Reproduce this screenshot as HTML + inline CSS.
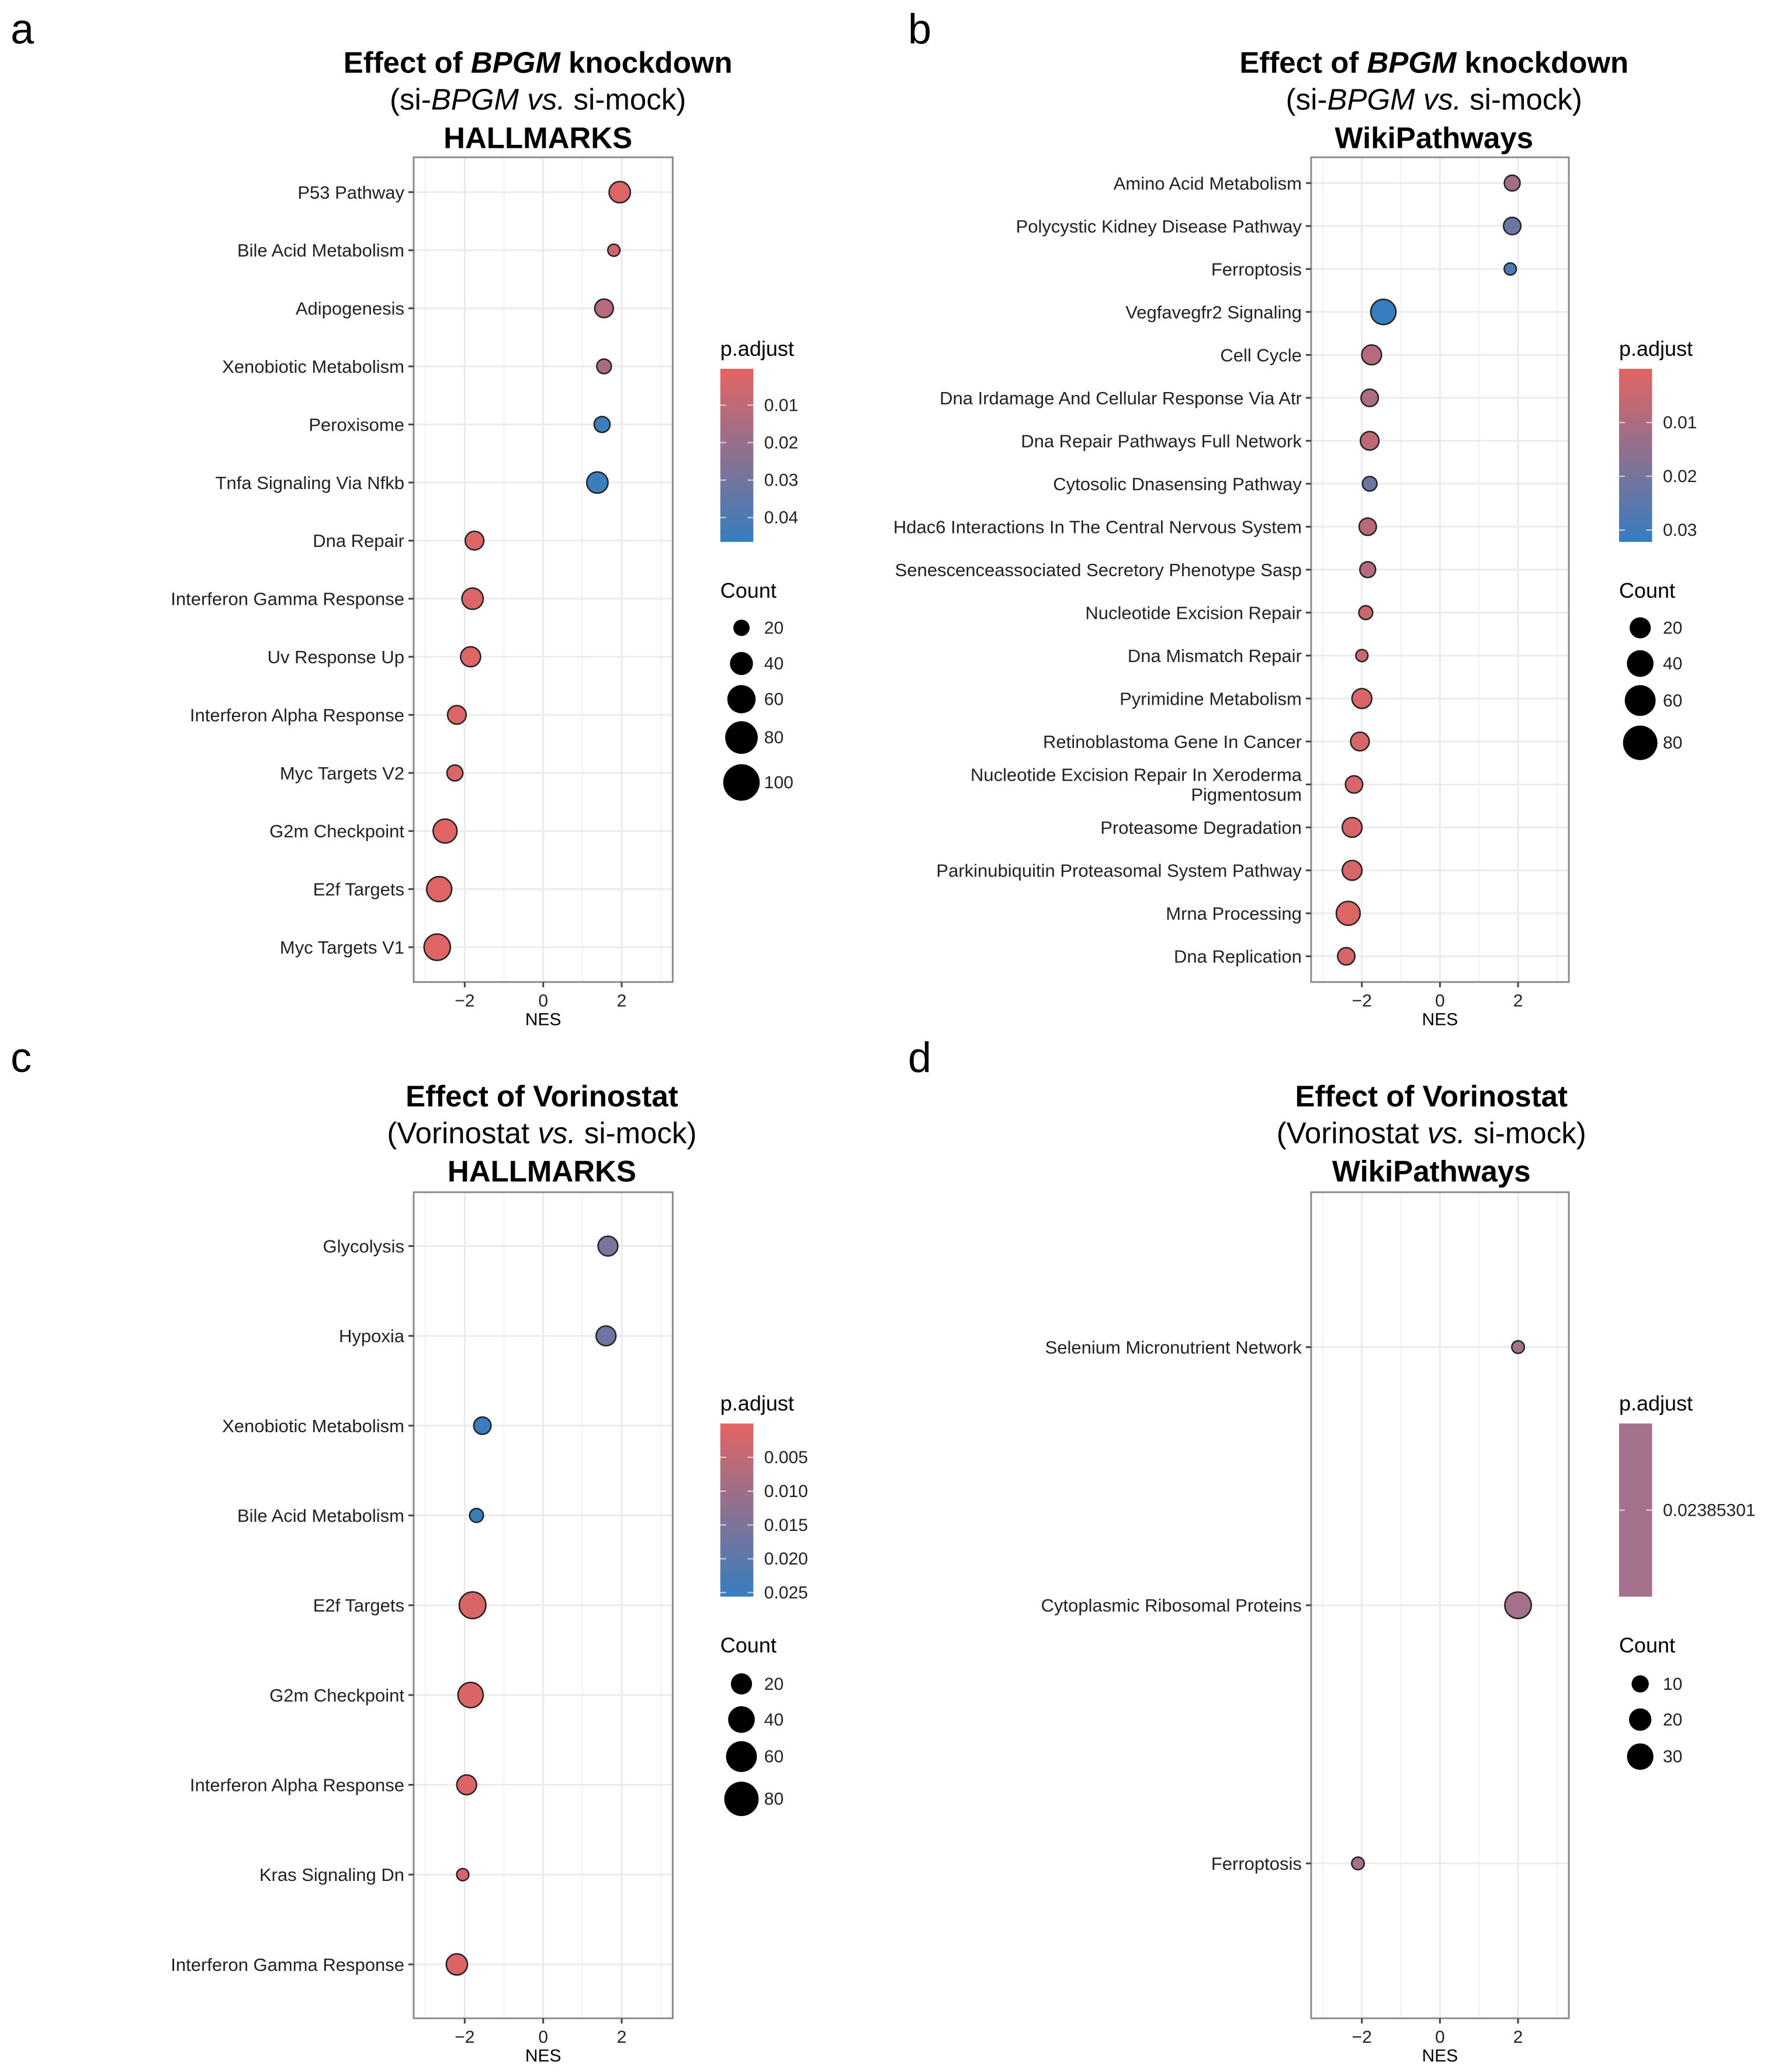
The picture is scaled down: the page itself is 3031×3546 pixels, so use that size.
<!DOCTYPE html>
<html><head><meta charset="utf-8"><style>
html,body{margin:0;padding:0;background:#fff;}
svg{display:block;font-family:"Liberation Sans",Arial,sans-serif;}
</style></head><body>
<svg id="fig" width="3031" height="3546" viewBox="0 0 3031 3546" xmlns="http://www.w3.org/2000/svg"></svg>
<script>
// ---------- Panel a data ----------
const aLabels=["P53 Pathway","Bile Acid Metabolism","Adipogenesis","Xenobiotic Metabolism","Peroxisome","Tnfa Signaling Via Nfkb","Dna Repair","Interferon Gamma Response","Uv Response Up","Interferon Alpha Response","Myc Targets V2","G2m Checkpoint","E2f Targets","Myc Targets V1"];
const aNES=[1.95,1.8,1.55,1.55,1.5,1.38,-1.75,-1.8,-1.85,-2.2,-2.25,-2.5,-2.65,-2.7];
const aCount=[34,11,26,16,19,34,26,34,30,26,19,43,47,52];
const aPadj=[0.002,0.005,0.012,0.015,0.045,0.045,0.002,0.002,0.002,0.002,0.002,0.001,0.001,0.001];
const aPTicks=[0.01,0.02,0.03,0.04];
const aPTickLabels=["0.01","0.02","0.03","0.04"];
const aCountLegend=[20,40,60,80,100];
// ---------- Panel b data ----------
const bLabels=["Amino Acid Metabolism","Polycystic Kidney Disease Pathway","Ferroptosis","Vegfavegfr2 Signaling","Cell Cycle","Dna Irdamage And Cellular Response Via Atr","Dna Repair Pathways Full Network","Cytosolic Dnasensing Pathway","Hdac6 Interactions In The Central Nervous System","Senescenceassociated Secretory Phenotype Sasp","Nucleotide Excision Repair","Dna Mismatch Repair","Pyrimidine Metabolism","Retinoblastoma Gene In Cancer","Nucleotide Excision Repair In Xeroderma|Pigmentosum","Proteasome Degradation","Parkinubiquitin Proteasomal System Pathway","Mrna Processing","Dna Replication"];
const bNES=[1.85,1.85,1.8,-1.45,-1.75,-1.8,-1.8,-1.8,-1.85,-1.85,-1.9,-2.0,-2.0,-2.05,-2.2,-2.25,-2.25,-2.35,-2.4];
const bCount=[7,10,2,34,16,10,13,5,10,7,4,2,16,13,10,16,16,29,10];
const bPadj=[0.012,0.022,0.028,0.032,0.008,0.01,0.007,0.022,0.008,0.008,0.005,0.004,0.002,0.002,0.002,0.002,0.002,0.001,0.002];
const bPTicks=[0.01,0.02,0.03];
const bPTickLabels=["0.01","0.02","0.03"];
const bCountLegend=[20,40,60,80];
// ---------- Panel c data ----------
const cLabels=["Glycolysis","Hypoxia","Xenobiotic Metabolism","Bile Acid Metabolism","E2f Targets","G2m Checkpoint","Interferon Alpha Response","Kras Signaling Dn","Interferon Gamma Response"];
const cNES=[1.65,1.6,-1.55,-1.7,-1.8,-1.85,-1.95,-2.05,-2.2];
const cCount=[16,16,10,4,40,34,16,2,20];
const cPadj=[0.016,0.017,0.025,0.025,0.001,0.001,0.001,0.001,0.001];
const cPTicks=[0.005,0.010,0.015,0.020,0.025];
const cPTickLabels=["0.005","0.010","0.015","0.020","0.025"];
const cCountLegend=[20,40,60,80];
// ---------- Panel d data ----------
const dLabels=["Selenium Micronutrient Network","Cytoplasmic Ribosomal Proteins","Ferroptosis"];
const dNES=[2.0,2.0,-2.1];
const dCount=[4,30,4];
const dPadj=[0.02385301,0.02385301,0.02385301];
const dPTicks=[0.02385301];
const dPTickLabels=["0.02385301"];
const dCountLegend=[10,20,30];
const xTicks=[-2,0,2];
const xTickLabels=["\u22122","0","2"];

const S=2.262;
const svg=document.getElementById('fig');
const NS="http://www.w3.org/2000/svg";
function mk(tag,attrs,parent){const e=document.createElementNS(NS,tag);for(const k in attrs)e.setAttribute(k,attrs[k]);(parent||svg).appendChild(e);return e;}
const RED=[226,100,98],BLUE=[54,126,192];
function col(t){t=Math.max(0,Math.min(1,t));const c=RED.map((v,i)=>Math.round(v+(BLUE[i]-v)*t));return `rgb(${c[0]},${c[1]},${c[2]})`;}

function panel(cfg){
  const g=mk('g',{});
  
  
  const x0=cfg.box[0]*S,x1=cfg.box[1]*S,y0=cfg.box[2]*S,y1=cfg.box[3]*S;
  const xmin=-3.3,xmax=3.3;
  const xs=v=>x0+(v-xmin)/(xmax-xmin)*(x1-x0);
  const n=cfg.labels.length;
  const step=(y1-y0)/(n-1+1.2);
  const ys=i=>y0+(0.6+i)*step;
  const L=mk('text',{x:cfg.letter[0]*S,y:cfg.letter[1]*S,'font-size':72,fill:'#000'},g);
  L.textContent=cfg.id;
  
  
  const cx=cfg.titleX*S;
  cfg.title.forEach((ln,i)=>{
    const t=mk('text',{x:cx,y:(cfg.titleY[i])*S,'font-size':51,'text-anchor':'middle',fill:'#000'},g);
    
    
    ln.forEach(seg=>{const sp=mk('tspan',{},t);if(seg[1].includes('b'))sp.setAttribute('font-weight','bold');if(seg[1].includes('i'))sp.setAttribute('font-style','italic');sp.textContent=seg[0];});
  });
  mk('rect',{x:x0,y:y0,width:x1-x0,height:y1-y0,fill:'#fff'},g);
  [-3,-1,1,3].forEach(v=>mk('line',{x1:xs(v),x2:xs(v),y1:y0,y2:y1,stroke:'#f2f2f2','stroke-width':2},g));
  xTicks.forEach(v=>mk('line',{x1:xs(v),x2:xs(v),y1:y0,y2:y1,stroke:'#ebebeb','stroke-width':3},g));
  for(let i=0;i<n;i++)mk('line',{x1:x0,x2:x1,y1:ys(i),y2:ys(i),stroke:'#ebebeb','stroke-width':3},g);
  for(let i=0;i<n;i++){
    const c=mk('circle',{cx:xs(cfg.nes[i]),cy:ys(i),r:cfg.size(cfg.count[i])*S,fill:cfg.fixedColor||col((cfg.padj[i]-cfg.pRange[0])/(cfg.pRange[1]-cfg.pRange[0])),stroke:'#222','stroke-width':2.5},g);
    
    
  }
  mk('rect',{x:x0,y:y0,width:x1-x0,height:y1-y0,fill:'none',stroke:'#8c8c8c','stroke-width':3},g);
  for(let i=0;i<n;i++){
    mk('line',{x1:x0-9,x2:x0,y1:ys(i),y2:ys(i),stroke:'#444','stroke-width':3},g);
    const parts=cfg.labels[i].split('|');
    parts.forEach((p,k)=>{
      const t=mk('text',{x:x0-16,y:ys(i)+11+(k-(parts.length-1)/2)*34,'font-size':31,'text-anchor':'end',fill:'#222'},g);
      t.textContent=p;
      
      
    });
  }
  xTicks.forEach((v,i)=>{
    mk('line',{x1:xs(v),x2:xs(v),y1:y1,y2:y1+9,stroke:'#444','stroke-width':3},g);
    const t=mk('text',{x:xs(v),y:y1+42,'font-size':30,'text-anchor':'middle',fill:'#222'},g);
    t.textContent=xTickLabels[i];
    
    
  });
  const xt=mk('text',{x:(x0+x1)/2,y:y1+74,'font-size':30,'text-anchor':'middle',fill:'#000'},g);
  xt.textContent='NES';
  
  
  const lx=cfg.legX*S, by0=cfg.barY[0]*S, by1=cfg.barY[1]*S;
  const pt=mk('text',{x:lx,y:by0-22,'font-size':36,fill:'#000'},g);
  pt.textContent='p.adjust';
  
  
  const gid='grad'+cfg.id;
  const defs=mk('defs',{},g);
  const lg=mk('linearGradient',{id:gid,x1:0,y1:0,x2:0,y2:1},defs);
  for(let k=0;k<=10;k++)mk('stop',{offset:k/10,'stop-color':cfg.fixedColor||col(k/10)},lg);
  const bar=mk('rect',{x:lx,y:by0,width:25*S,height:by1-by0,fill:`url(#${gid})`},g);
  
  
  cfg.pTicks.forEach((p,i)=>{
    const yy=cfg.fixedColor?(by0+by1)/2:by0+(p-cfg.pRange[0])/(cfg.pRange[1]-cfg.pRange[0])*(by1-by0);
    mk('line',{x1:lx,x2:lx+10,y1:yy,y2:yy,stroke:'#fff','stroke-width':2,opacity:0.7},g);
    mk('line',{x1:lx+25*S-10,x2:lx+25*S,y1:yy,y2:yy,stroke:'#fff','stroke-width':2,opacity:0.7},g);
    const t=mk('text',{x:lx+75,y:yy+10,'font-size':30,fill:'#222'},g);
    t.textContent=cfg.pTickLabels[i];
    
    
  });
  const ct=mk('text',{x:lx,y:cfg.countTitleY*S+12,'font-size':36,fill:'#000'},g);
  ct.textContent='Count';
  
  
  cfg.countLeg.forEach((c,i)=>{
    const yy=cfg.countY[i]*S;
    const cc=mk('circle',{cx:(lx+16*S),cy:yy,r:cfg.size(c)*S,fill:'#000'},g);
    
    
    const t=mk('text',{x:lx+75,y:yy+10,'font-size':30,fill:'#222'},g);
    t.textContent=String(c);
    
    
  });
}
const sizeA=c=>1.38*Math.sqrt(c);
const sizeBC=c=>1.12*Math.sqrt(c)+3;
const sizeD=c=>1.51*Math.sqrt(c)+1.73;
panel({id:'a',letter:[8,33],box:[313,509,119,743],titleX:407,titleY:[55,83,112],
  title:[[["Effect of ","b"],["BPGM","bi"],[" knockdown","b"]],[["(si-",""],["BPGM","i"],[" ",""],["vs.","i"],[" si-mock)",""]],[["HALLMARKS","b"]]],
  labels:aLabels,nes:aNES,count:aCount,padj:aPadj,pRange:[0.0003,0.0465],pTicks:aPTicks,pTickLabels:aPTickLabels,
  legX:545,barY:[279,410],countTitleY:447,countLeg:aCountLegend,countY:[475,502,529,558,592],size:sizeA});
panel({id:'b',letter:[687,33],box:[992,1187,119,743],titleX:1085,titleY:[55,83,112],
  title:[[["Effect of ","b"],["BPGM","bi"],[" knockdown","b"]],[["(si-",""],["BPGM","i"],[" ",""],["vs.","i"],[" si-mock)",""]],[["WikiPathways","b"]]],
  labels:bLabels,nes:bNES,count:bCount,padj:bPadj,pRange:[0.0,0.0322],pTicks:bPTicks,pTickLabels:bPTickLabels,
  legX:1225,barY:[279,410],countTitleY:447,countLeg:bCountLegend,countY:[475,502,530,562],size:sizeBC});
panel({id:'c',letter:[8,811],box:[313,509,902,1527],titleX:410,titleY:[837,865,894],
  title:[[["Effect of Vorinostat","b"]],[["(Vorinostat ",""],["vs.","i"],[" si-mock)",""]],[["HALLMARKS","b"]]],
  labels:cLabels,nes:cNES,count:cCount,padj:cPadj,pRange:[0.0,0.0256],pTicks:cPTicks,pTickLabels:cPTickLabels,
  legX:545,barY:[1077,1208],countTitleY:1245,countLeg:cCountLegend,countY:[1274,1301,1329,1361],size:sizeBC});
panel({id:'d',letter:[687,811],box:[992,1187,902,1527],titleX:1083,titleY:[837,865,894],
  title:[[["Effect of Vorinostat","b"]],[["(Vorinostat ",""],["vs.","i"],[" si-mock)",""]],[["WikiPathways","b"]]],
  labels:dLabels,nes:dNES,count:dCount,padj:dPadj,pRange:[0.02,0.028],pTicks:dPTicks,pTickLabels:dPTickLabels,fixedColor:'#a5708c',
  legX:1225,barY:[1077,1208],countTitleY:1245,countLeg:dCountLegend,countY:[1274,1301,1329],size:sizeD});
</script>
</body></html>
